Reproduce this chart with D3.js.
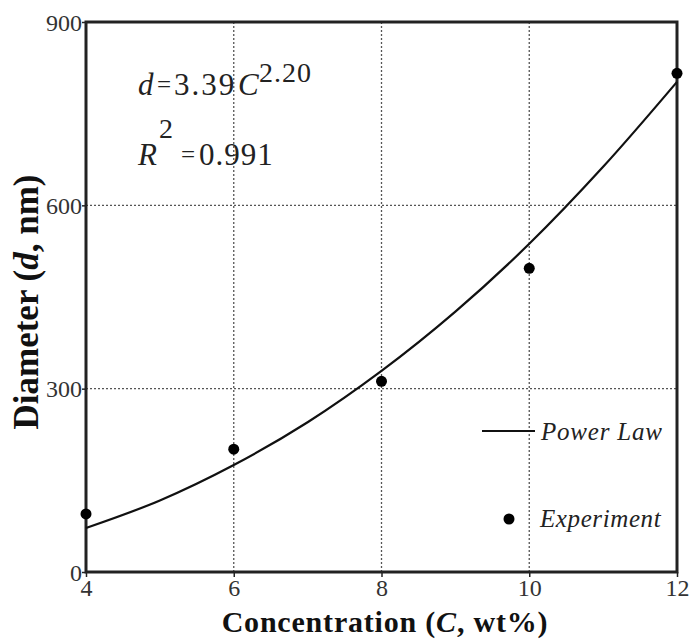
<!DOCTYPE html>
<html><head><meta charset="utf-8">
<script src="https://cdn.jsdelivr.net/npm/d3@7"></script>
<style>body{margin:0;background:#fff;}svg{display:block;}</style>
</head><body>
<svg id="c" width="689" height="641"></svg>
<script>
const xTicks = [4, 6, 8, 10, 12];
const yTicks = [0, 300, 600, 900];
const expC = [4, 6, 8, 10, 12];
const expD = [95, 201, 312, 497, 816];
const fitC = [4, 5, 6, 7, 8, 9, 10, 11, 12];
const fitD = [72, 117, 175, 245, 329, 426, 537, 663, 802];

const svg = d3.select("#c");
const L = 86, R = 677, T = 22, B = 572;
const x = d3.scaleLinear().domain([4, 12]).range([L, R]);
const y = d3.scaleLinear().domain([0, 900]).range([B, T]);
const serif = "'Liberation Serif','Times New Roman',serif";

// grid
svg.append("g").selectAll("line").data(xTicks.slice(1, -1)).join("line")
  .attr("x1", d => x(d)).attr("x2", d => x(d)).attr("y1", T).attr("y2", B)
  .attr("stroke", "#555").attr("stroke-width", 1.3).attr("stroke-dasharray", "2,2");
svg.append("g").selectAll("line").data(yTicks.slice(1, -1)).join("line")
  .attr("y1", d => y(d)).attr("y2", d => y(d)).attr("x1", L).attr("x2", R)
  .attr("stroke", "#555").attr("stroke-width", 1.3).attr("stroke-dasharray", "2,2");

// axes
const xAx = svg.append("g").attr("transform", `translate(0,${B})`)
  .call(d3.axisBottom(x).tickValues(xTicks).tickSize(5).tickPadding(2).tickSizeOuter(0));
const yAx = svg.append("g").attr("transform", `translate(${L},0)`)
  .call(d3.axisLeft(y).tickValues(yTicks).tickSize(4).tickPadding(0).tickSizeOuter(0));
[xAx, yAx].forEach(a => {
  a.select(".domain").remove();
  a.attr("font-family", serif).attr("font-size", 24);
  a.selectAll("line").attr("stroke", "#222").attr("stroke-width", 1.5);
  a.selectAll("text").attr("font-family", serif).attr("font-size", 24).attr("fill", "#333");
});
xAx.selectAll("text").attr("dy", "0.72em");
yAx.selectAll("text").attr("dy", "0.34em");

// frame
svg.append("rect").attr("x", L).attr("y", T).attr("width", R - L).attr("height", B - T)
  .attr("fill", "none").attr("stroke", "#222").attr("stroke-width", 3);

// fit curve
const line = d3.line().x((d, i) => x(fitC[i])).y(d => y(d)).curve(d3.curveCatmullRom);
svg.append("path").attr("d", line(fitD)).attr("fill", "none").attr("stroke", "#111").attr("stroke-width", 2.2);

// points
svg.append("g").selectAll("circle").data(expD).join("circle")
  .attr("cx", (d, i) => x(expC[i])).attr("cy", d => y(d)).attr("r", 5.5).attr("fill", "#000");

// equation
const eq = svg.append("text").attr("font-family", serif).attr("font-size", 31).attr("fill", "#222");
eq.append("tspan").attr("x", 138).attr("y", 95).attr("font-style", "italic").text("d");
eq.append("tspan").attr("x", 157).attr("y", 93).attr("font-size", 25).text("=");
eq.append("tspan").attr("x", 174).attr("y", 95).attr("letter-spacing", 2).text("3.39");
eq.append("tspan").attr("x", 238).attr("y", 95).attr("font-style", "italic").text("C");
eq.append("tspan").attr("x", 259).attr("y", 82).attr("font-size", 28).attr("letter-spacing", 1).text("2.20");
const r2 = svg.append("text").attr("font-family", serif).attr("font-size", 31).attr("fill", "#222");
r2.append("tspan").attr("x", 138).attr("y", 165).attr("font-style", "italic").text("R");
r2.append("tspan").attr("x", 159).attr("y", 138).attr("font-size", 28).text("2");
r2.append("tspan").attr("x", 181).attr("y", 163).attr("font-size", 25).text("=");
r2.append("tspan").attr("x", 199).attr("y", 165).attr("letter-spacing", 1).text("0.991");

// legend
svg.append("line").attr("x1", 482).attr("x2", 535).attr("y1", 431).attr("y2", 431).attr("stroke", "#111").attr("stroke-width", 2.2);
svg.append("text").attr("x", 541).attr("y", 440).attr("font-family", serif).attr("font-style", "italic").attr("font-size", 25).attr("letter-spacing", 0.8).attr("fill", "#222").text("Power Law");
svg.append("circle").attr("cx", 509).attr("cy", 519).attr("r", 5.5).attr("fill", "#000");
svg.append("text").attr("x", 540).attr("y", 527).attr("font-family", serif).attr("font-style", "italic").attr("font-size", 25).attr("letter-spacing", 0.6).attr("fill", "#222").text("Experiment");

// axis titles
const xt = svg.append("text").attr("x", 385).attr("y", 632).attr("text-anchor", "middle")
  .attr("font-family", serif).attr("font-weight", "bold").attr("font-size", 30).attr("letter-spacing", 0.8).attr("fill", "#111");
xt.append("tspan").text("Concentration (");
xt.append("tspan").attr("font-style", "italic").text("C");
xt.append("tspan").text(", wt%)");
const yt = svg.append("text").attr("transform", `translate(38,302) rotate(-90)`).attr("text-anchor", "middle")
  .attr("font-family", serif).attr("font-weight", "bold").attr("font-size", 35).attr("fill", "#111");
yt.append("tspan").text("Diameter (");
yt.append("tspan").attr("font-style", "italic").text("d");
yt.append("tspan").text(", nm)");
</script>
</body></html>
